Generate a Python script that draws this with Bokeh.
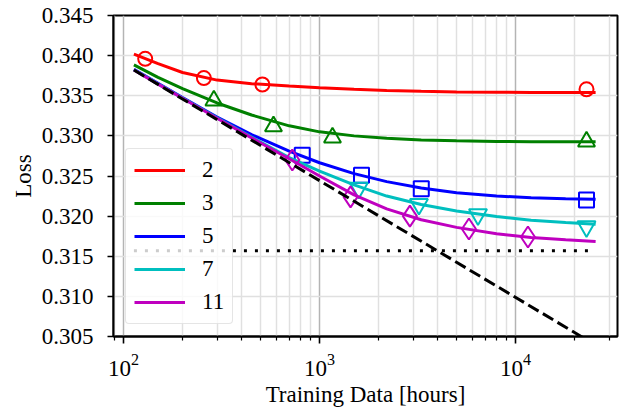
from bokeh.plotting import figure
from bokeh.models import Range1d, FixedTicker, NumeralTickFormatter, Legend, LegendItem
from bokeh.embed import file_html
from bokeh.resources import INLINE

# ---------------- data ----------------
series_labels = ["2", "3", "5", "7", "11"]

# measured points (markers)
red_x = [129, 257, 511, 23000]
red_y = [0.3396, 0.3372, 0.3364, 0.3358]
green_x = [289, 582, 1164, 23000]
green_y = [0.3344, 0.3312, 0.3298, 0.3293]
blue_x = [816, 1637, 3303, 23000]
blue_y = [0.3276, 0.3251, 0.3234, 0.3220]
cyan_x = [1585, 3214, 6430, 23000]
cyan_y = [0.3235, 0.3215, 0.3202, 0.3187]
magenta_x = [726, 1439, 2890, 5780, 11560]
magenta_y = [0.3270, 0.3224, 0.3200, 0.3184, 0.3174]

# fitted curves, read at these training-data sizes
fit_x = [113, 150, 200, 300, 450, 700, 1000, 1500, 2200, 3300, 5000, 8000, 12000, 18000, 25600]
red_fit = [0.34020, 0.33900, 0.33790, 0.33695, 0.33650, 0.33620, 0.33600, 0.33580,
           0.33565, 0.33555, 0.33548, 0.33544, 0.33542, 0.33541, 0.33540]
green_fit = [0.33885, 0.33730, 0.33590, 0.33410, 0.33260, 0.33125, 0.33050, 0.33000,
             0.32970, 0.32950, 0.32938, 0.32930, 0.32928, 0.32927, 0.32926]
blue_fit = [0.33830, 0.33655, 0.33478, 0.33235, 0.33015, 0.32810, 0.32665, 0.32530,
            0.32430, 0.32350, 0.32290, 0.32250, 0.32230, 0.32218, 0.32210]
cyan_fit = [0.33825, 0.33648, 0.33470, 0.33225, 0.32985, 0.32730, 0.32560, 0.32390,
            0.32250, 0.32145, 0.32065, 0.31995, 0.31950, 0.31920, 0.31900]
magenta_fit = [0.33820, 0.33645, 0.33468, 0.33220, 0.32975, 0.32715, 0.32500, 0.32265,
               0.32090, 0.31955, 0.31860, 0.31780, 0.31735, 0.31705, 0.31683]

# power-law (dashed) and floor (dotted) reference lines
dash_x = [113, 25600]
dash_y = [0.33820, 0.30393]
floor_x = [113, 25600]
floor_y = [0.31570, 0.31570]

# axes
x_ticks = [100, 1000, 10000]
x_minor_ticks = [90, 200, 300, 400, 500, 600, 700, 800, 900,
                 2000, 3000, 4000, 5000, 6000, 7000, 8000, 9000,
                 20000, 30000]
y_ticks = [0.305, 0.310, 0.315, 0.320, 0.325, 0.330, 0.335, 0.340, 0.345]
x_label = "Training Data [hours]"
y_label = "Loss"

# ---------------- figure ----------------
FONT = "Liberation Serif"

p = figure(width=629, height=409, x_axis_type="log",
           x_range=Range1d(88.9, 33100), y_range=Range1d(0.305, 0.345),
           output_backend="svg", toolbar_location=None,
           min_border_left=113, min_border_right=12, min_border_top=15, min_border_bottom=73)

p.outline_line_color = "black"
p.outline_line_width = 2
p.outline_line_alpha = 1.0

# grids
p.xgrid.grid_line_color = "#b4b4b4"
p.xgrid.grid_line_width = 1.5
p.xgrid.minor_grid_line_color = "#e0e0e0"
p.xgrid.minor_grid_line_width = 1.5
p.ygrid.grid_line_color = "#e0e0e0"
p.ygrid.grid_line_width = 1.5

# x axis
p.xaxis.ticker = FixedTicker(ticks=x_ticks, minor_ticks=x_minor_ticks)
p.xaxis.axis_label = x_label
# y axis
p.yaxis.ticker = FixedTicker(ticks=y_ticks, minor_ticks=[])
p.yaxis.formatter = NumeralTickFormatter(format="0.000")
p.yaxis.axis_label = y_label

for ax in (p.xaxis[0], p.yaxis[0]):
    ax.axis_line_color = "black"
    ax.axis_line_width = 2
    ax.major_tick_line_color = "black"
    ax.major_tick_line_width = 1.6
    ax.minor_tick_line_color = "black"
    ax.minor_tick_line_width = 1.2
    ax.major_tick_in = 0
    ax.minor_tick_in = 0
    ax.major_label_text_font = FONT
    ax.major_label_text_font_size = "23px"
    ax.major_label_text_color = "black"
    ax.axis_label_text_font = FONT
    ax.axis_label_text_font_size = "23px"
    ax.axis_label_text_font_style = "normal"
    ax.axis_label_text_color = "black"

p.xaxis.major_tick_out = 7
p.xaxis.minor_tick_out = 4
p.xaxis.major_label_standoff = 10
p.xaxis.axis_label_standoff = 3
p.yaxis.major_tick_out = 6
p.yaxis.minor_tick_out = 0
p.yaxis.minor_tick_line_color = None
p.yaxis.major_label_standoff = 14
p.yaxis.axis_label_standoff = 3

# ---------------- glyphs ----------------
LW = 3
series = [
    (red_fit, red_x, red_y, "#ff0000", "circle", 14),
    (green_fit, green_x, green_y, "#008000", "triangle", 17),
    (blue_fit, blue_x, blue_y, "#0000ff", "square", 15),
    (cyan_fit, cyan_x, cyan_y, "#00bfbf", "inverted_triangle", 18),
    (magenta_fit, magenta_x, magenta_y, "#bf00bf", "diamond", 21),
]

line_renderers = []
for fit_y, mx, my, col, mk, sz in series:
    r = p.line(fit_x, fit_y, line_color=col, line_width=LW)
    line_renderers.append(r)
    p.scatter(mx, my, marker=mk, size=sz, fill_color=None, line_color=col, line_width=2)

p.line(dash_x, dash_y, line_color="black", line_width=LW, line_dash="12 5")
p.line(floor_x, floor_y, line_color="black", line_width=LW, line_dash="3 8")

legend = Legend(
    items=[LegendItem(label=lab, renderers=[r]) for lab, r in zip(series_labels, line_renderers)],
    location="bottom_left",
    margin=12,
    padding=8,
    spacing=7,
    glyph_width=51,
    glyph_height=20,
    label_height=20,
    label_standoff=17,
    label_text_font=FONT,
    label_text_font_size="23px",
    label_text_color="black",
    border_line_color="#cccccc",
    border_line_width=1.5,
    border_radius=4,
    background_fill_color="white",
    background_fill_alpha=0.8,
)
p.add_layout(legend)

open("out.html", "w").write(file_html(p, INLINE))
